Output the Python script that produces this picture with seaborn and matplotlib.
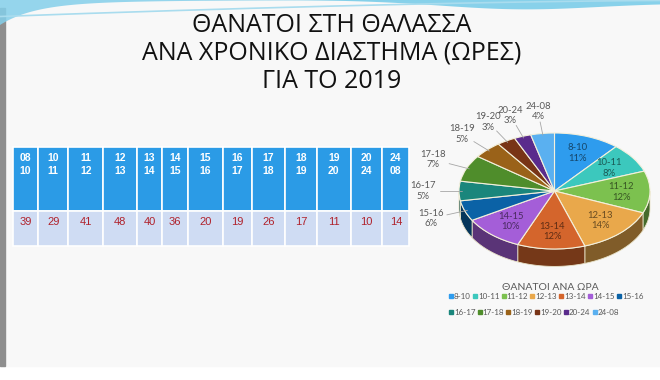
import numpy as np
import matplotlib
matplotlib.use("Agg")
import matplotlib.pyplot as plt
from matplotlib.patches import Rectangle, Polygon
from matplotlib.lines import Line2D
from matplotlib.colors import to_rgb
import seaborn as sns

sns.set_theme(style="white")
plt.rcParams['font.family'] = ['Liberation Sans', 'DejaVu Sans']

W, H = 660, 380

# data
hour_from = ["08", "10", "11", "12", "13", "14", "15", "16", "17", "18", "19", "20", "24"]
hour_to = ["10", "11", "12", "13", "14", "15", "16", "17", "18", "19", "20", "24", "08"]
deaths = [39, 29, 41, 48, 40, 36, 20, 19, 26, 17, 11, 10, 14]
pie_labels = ["8-10", "10-11", "11-12", "12-13", "13-14", "14-15", "15-16",
              "16-17", "17-18", "18-19", "19-20", "20-24", "24-08"]
pie_pct = ["11%", "8%", "12%", "14%", "12%", "10%", "6%",
           "5%", "7%", "5%", "3%", "3%", "4%"]
colors = ["#2e9cee", "#3cc8bd", "#7cc14f", "#e9a84b", "#d4652c", "#a45ed8", "#0b62a6",
          "#1a867c", "#4f8d2b", "#9a6219", "#783416", "#5a2b8c", "#5ab0f0"]
n_inside = 6

# table column edges (pixels)
col_edges = [12.7, 38.3, 68.3, 103.3, 136.7, 162.3, 188.3, 222.7, 252.3, 285, 316.7, 350.7, 382.3, 409.3]

fig = plt.figure(figsize=(W / 100, H / 100), dpi=100)
fig.patch.set_facecolor("white")

bg = fig.add_axes([0, 0, 1, 1])
bg.set_xlim(0, W)
bg.set_ylim(H, 0)
bg.axis("off")

# slide background + decorations
bg.add_patch(Rectangle((0, 0), W, 366, color="#f8f8f8", zorder=0))
bg.add_patch(Rectangle((0, 8), 4.5, 358, color="#8e8e8e", zorder=0.5))
xs = np.linspace(0, W, 300)
bg.fill_between(xs, 0, 21 * np.exp(-xs / 35) + 4 * np.exp(-xs / 120), color="#84cfea",
                alpha=0.85, zorder=0.6, lw=0)
bg.fill_between(xs, 0, 7.5 * np.exp(-((xs - 520) / 110) ** 2) + 3 * (xs > 300) * (xs - 300) / 360,
                color="#74cbe8", alpha=0.85, zorder=0.6, lw=0)
bg.plot(xs, 16 * (1 - xs / W) ** 1.5 + 0.5, color="#a9dcee", lw=1.2, zorder=0.7)

# title
title_lines = ["ΘΑΝΑΤΟΙ ΣΤΗ ΘΑΛΑΣΣΑ", "ΑΝΑ ΧΡΟΝΙΚΟ ΔΙΑΣΤΗΜΑ (ΩΡΕΣ)", "ΓΙΑ ΤΟ 2019"]
for i, line in enumerate(title_lines):
    bg.text(332, 26 + i * 27.5, line, fontsize=18, ha="center", va="center",
            color="#111111", family=["Open Sans", "DejaVu Sans"])

# table
top, mid, bot = 147, 211, 246
for i in range(len(deaths)):
    x0, x1 = col_edges[i], col_edges[i + 1]
    bg.add_patch(Rectangle((x0, top), x1 - x0, mid - top, facecolor="#2b9be6",
                           edgecolor="white", lw=1.2, zorder=1))
    bg.add_patch(Rectangle((x0, mid), x1 - x0, bot - mid, facecolor="#cfdcf3",
                           edgecolor="white", lw=1.2, zorder=1))
    xc = (x0 + x1) / 2
    bg.text(xc, 158, hour_from[i], color="white", fontsize=7.5, fontweight="bold",
            ha="center", va="center", zorder=2)
    bg.text(xc, 171, hour_to[i], color="white", fontsize=7.5, fontweight="bold",
            ha="center", va="center", zorder=2)
    bg.text(xc, 222, str(deaths[i]), color="#b0222c", fontsize=8,
            ha="center", va="center", zorder=2)

# 3d-ish pie
cx, cy, rx, ry, depth = 554.5, 191, 95.5, 58, 0.3
pad = 1.45
ax = fig.add_axes([(cx - pad * rx) / W, (H - (cy + (1.05 + depth) * ry)) / H,
                   2 * pad * rx / W, (pad + 1.05 + depth) * ry / H])
wedges, _ = ax.pie(deaths, colors=colors, startangle=90, counterclock=False,
                   wedgeprops=dict(edgecolor="#f3f0dc", linewidth=0.8))
ax.set_aspect("auto")
ax.set_xlim(-pad, pad)
ax.set_ylim(-1.05 - depth, pad)
ax.axis("off")

for w, c in zip(wedges, colors):
    ts = np.linspace(w.theta1, w.theta2, 200)
    ts = ts[np.sin(np.radians(ts)) <= 0]
    if len(ts) < 2:
        continue
    r = np.radians(ts)
    xt, yt = np.cos(r), np.sin(r)
    pts = np.column_stack([np.r_[xt, xt[::-1]], np.r_[yt, yt[::-1] - depth]])
    dark = np.array(to_rgb(c)) * 0.55
    ax.add_patch(Polygon(pts, closed=True, facecolor=dark, edgecolor="#e8e2c8",
                         lw=0.6, zorder=0.5))

lab_font = ["Lato", "Noto Sans", "DejaVu Sans"]
for i, w in enumerate(wedges):
    a = np.radians((w.theta1 + w.theta2) / 2)
    if i < n_inside:
        r = 0.7
        dark = np.array(to_rgb(colors[i])) * 0.45
        ax.text(r * np.cos(a), r * np.sin(a), f"{pie_labels[i]}\n{pie_pct[i]}",
                ha="center", va="center", fontsize=6.8, color=dark,
                family=lab_font, linespacing=1.25)
    else:
        r = 1.38
        ax.plot([0.97 * np.cos(a), 1.2 * np.cos(a)], [0.97 * np.sin(a), 1.2 * np.sin(a)],
                color="#a6a6a6", lw=0.6)
        ax.text(r * np.cos(a), r * np.sin(a), f"{pie_labels[i]}\n{pie_pct[i]}",
                ha="center", va="center", fontsize=6.8, color="#595959",
                family=lab_font, linespacing=1.25)

# legend: two rows, 7 + 6 entries
handles = [Line2D([], [], marker="s", linestyle="", markersize=3, color=c) for c in colors]
fig.text(550 / W, 1 - 287 / H, "ΘΑΝΑΤΟΙ ΑΝΑ ΩΡΑ", ha="center", va="center",
         fontsize=7.5, color="#595959", family=lab_font)
rows = [range(0, 7), range(7, 13)]
for k, (idx, ytop) in enumerate(zip(rows, [293, 309])):
    leg = fig.legend([handles[j] for j in idx], [pie_labels[j] for j in idx],
                     ncol=len(idx), loc="upper left", bbox_to_anchor=(449 / W, 1 - ytop / H),
                     frameon=False, handlelength=0.45, handletextpad=0.15,
                     columnspacing=0.3, borderpad=0, borderaxespad=0,
                     prop={"family": lab_font, "size": 5.8})
    for t in leg.get_texts():
        t.set_color("#595959")

fig.savefig("out.png", dpi=100)
